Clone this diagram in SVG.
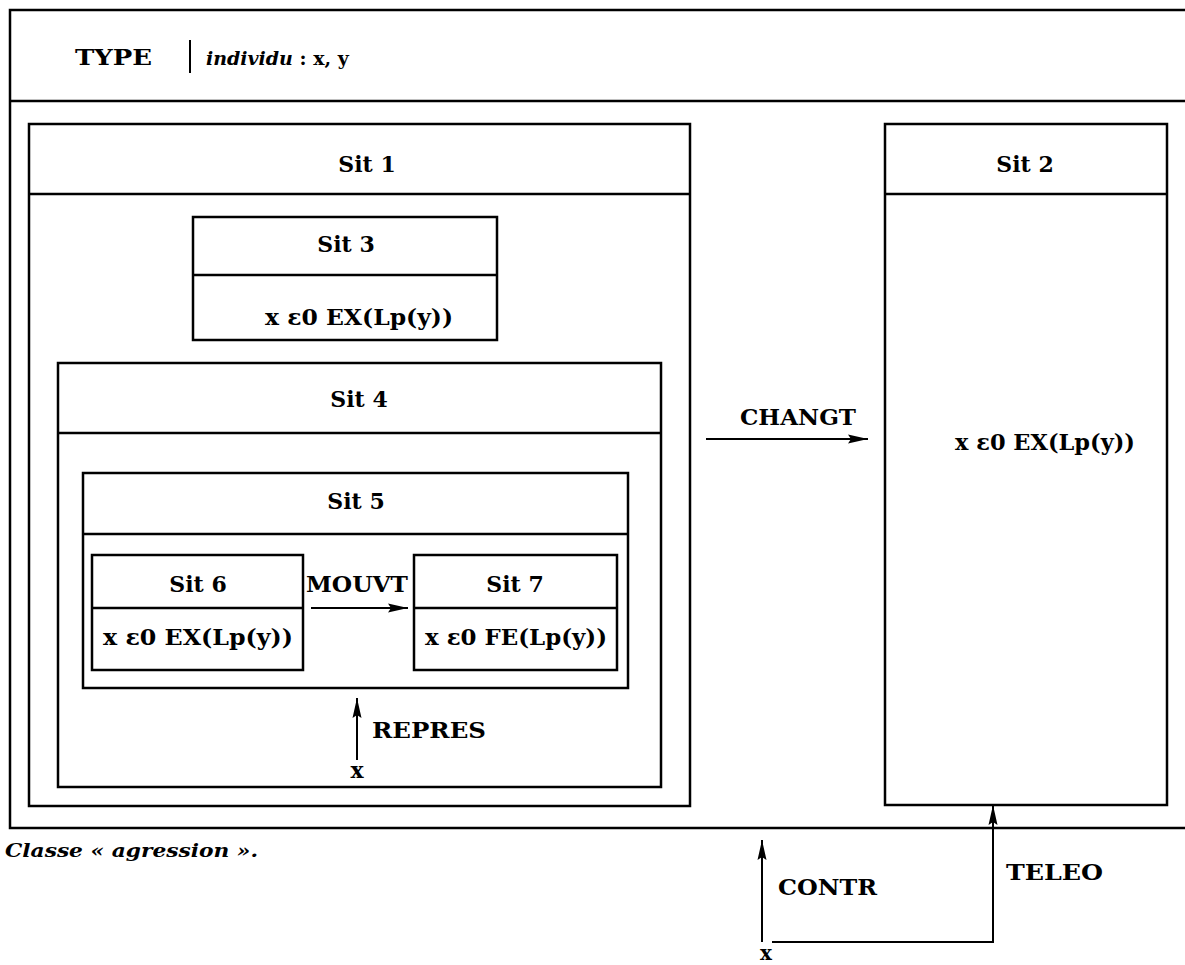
<svg xmlns="http://www.w3.org/2000/svg" width="1185" height="965" viewBox="0 0 1185 965">
<defs>
<style>
.b{fill:none;stroke:#000;stroke-width:2.5}
.l{fill:none;stroke:#000;stroke-width:2}
.t{font-family:"DejaVu Serif","Liberation Serif",serif;font-weight:bold;font-size:22px;fill:#000}
.c{text-anchor:middle}
.i{font-style:italic}
</style>
<marker id="ah" viewBox="0 0 20 10" refX="20" refY="5" markerWidth="20" markerHeight="10" markerUnits="userSpaceOnUse" orient="auto">
<path d="M0,0.5 L20,5 L0,9.5 L3,5 Z" fill="#000"/>
</marker>
</defs>
<rect width="1185" height="965" fill="#fff"/>
<g id="outer">
<path class="b" d="M1195,10 H10 V828 H1195 M10,101 H1195"/>
<text class="t" x="75" y="65" textLength="77" lengthAdjust="spacingAndGlyphs">TYPE</text>
<path class="l" d="M190,40 V73"/>
<text class="t" x="206" y="65" style="font-size:19px"><tspan class="i">individu</tspan> : x, y</text>
</g>
<g id="sit1">
<rect class="b" x="29" y="124" width="661" height="682"/>
<path class="b" d="M29,194 H690"/>
<text class="t c" x="367" y="172">Sit 1</text>
</g>
<g id="sit3">
<rect class="b" x="193" y="217" width="304" height="123"/>
<path class="b" d="M193,275 H497"/>
<text class="t c" x="346" y="252">Sit 3</text>
<text class="t c" x="359" y="325" textLength="188" lengthAdjust="spacingAndGlyphs">x ε0 EX(Lp(y))</text>
</g>
<g id="sit4">
<rect class="b" x="58" y="363" width="603" height="424"/>
<path class="b" d="M58,433 H661"/>
<text class="t c" x="359" y="407">Sit 4</text>
</g>
<g id="sit5">
<rect class="b" x="83" y="473" width="545" height="215"/>
<path class="b" d="M83,534 H628"/>
<text class="t c" x="356" y="509">Sit 5</text>
</g>
<g id="sit6">
<rect class="b" x="92" y="555" width="211" height="115"/>
<path class="b" d="M92,608 H303"/>
<text class="t c" x="198" y="592">Sit 6</text>
<text class="t c" x="198" y="645" textLength="190" lengthAdjust="spacingAndGlyphs">x ε0 EX(Lp(y))</text>
</g>
<g id="sit7">
<rect class="b" x="414" y="555" width="203" height="115"/>
<path class="b" d="M414,608 H617"/>
<text class="t c" x="515" y="592">Sit 7</text>
<text class="t c" x="516" y="645" textLength="182" lengthAdjust="spacingAndGlyphs">x ε0 FE(Lp(y))</text>
</g>
<g id="sit2">
<rect class="b" x="885" y="124" width="282" height="681"/>
<path class="b" d="M885,194 H1167"/>
<text class="t c" x="1025" y="172">Sit 2</text>
<text class="t c" x="1045" y="450" textLength="180" lengthAdjust="spacingAndGlyphs">x ε0 EX(Lp(y))</text>
</g>
<g id="connectors">
<path class="l" d="M311,608 H408" marker-end="url(#ah)"/>
<text class="t" x="306" y="592" textLength="102" lengthAdjust="spacingAndGlyphs">MOUVT</text>
<path class="l" d="M706,439 H868" marker-end="url(#ah)"/>
<text class="t" x="740" y="425" textLength="116" lengthAdjust="spacingAndGlyphs">CHANGT</text>
<path class="l" d="M357,760 V698" marker-end="url(#ah)"/>
<text class="t" x="372" y="738" textLength="114" lengthAdjust="spacingAndGlyphs">REPRES</text>
<text class="t c" x="357" y="778">x</text>
<path class="l" d="M762,942 V840" marker-end="url(#ah)"/>
<text class="t" x="778" y="895" textLength="99" lengthAdjust="spacingAndGlyphs">CONTR</text>
<text class="t c" x="766" y="960" style="font-size:20px">x</text>
<path class="l" d="M772,942 H993 V805" marker-end="url(#ah)"/>
<text class="t" x="1006" y="880" textLength="97" lengthAdjust="spacingAndGlyphs">TELEO</text>
</g>
<text class="t i" x="5" y="857" style="font-size:19px" textLength="253" lengthAdjust="spacingAndGlyphs">Classe « agression ».</text>
</svg>
